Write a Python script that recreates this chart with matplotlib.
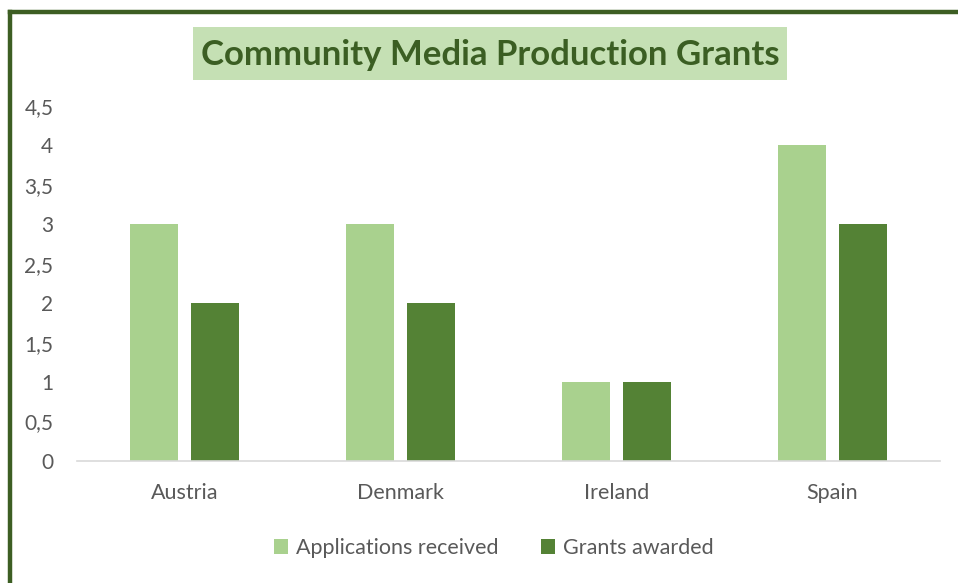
import matplotlib
matplotlib.use("Agg")
import matplotlib.pyplot as plt
import numpy as np
from matplotlib.lines import Line2D
from matplotlib.patches import Patch, Rectangle

categories = ["Austria", "Denmark", "Ireland", "Spain"]
applications = [3, 3, 1, 4]
grants = [2, 2, 1, 3]
series_names = ["Applications received", "Grants awarded"]
yticks = [0, 0.5, 1, 1.5, 2, 2.5, 3, 3.5, 4, 4.5]
ytick_labels = ["0", "0,5", "1", "1,5", "2", "2,5", "3", "3,5", "4", "4,5"]

plt.rcParams['font.family'] = ['Lato', 'DejaVu Sans']

LIGHT = "#A9D18E"
DARK = "#548235"
TXT = "#595959"
BORDER = "#3D5E23"

W, H = 958, 583
fig = plt.figure(figsize=(W/100, H/100), dpi=100)
ax = fig.add_axes([77/W, 1-461/H, (940-77)/W, (461-106)/H])

x = np.arange(len(categories))
w = 0.2225
off = 0.1414
ax.bar(x - off, applications, width=w, color=LIGHT, label=series_names[0])
ax.bar(x + off, grants, width=w, color=DARK, label=series_names[1])

ax.set_xlim(-0.5, len(categories) - 0.5)
ax.set_ylim(0, 4.5)
ax.set_yticks(yticks)
ax.set_yticklabels(ytick_labels)
ax.set_xticks(x)
ax.set_xticklabels(categories)
for s in ["top", "right", "left"]:
    ax.spines[s].set_visible(False)
ax.spines["bottom"].set_color("#D9D9D9")
ax.spines["bottom"].set_linewidth(1.2)
ax.tick_params(axis="both", length=0, colors=TXT, labelsize=15.5)
ax.tick_params(axis="y", pad=17, labelsize=15)
ax.tick_params(axis="x", pad=16)

# title box and text
fig.add_artist(Rectangle((193/W, 1-80/H), (787-193)/W, (80-27)/H, transform=fig.transFigure,
                         facecolor="#C5E0B4", edgecolor="none", zorder=1))
fig.text(490/W, 1-55/H, "Community Media Production Grants", ha="center", va="center",
         fontsize=25, fontweight="bold", color="#3B5E23", zorder=2)

handles = [Patch(facecolor=LIGHT), Patch(facecolor=DARK)]
leg = fig.legend(handles, series_names, loc="center", bbox_to_anchor=(494/W, 1-548/H),
                 ncol=2, frameon=False, fontsize=15.5, handlelength=0.65, handleheight=0.65,
                 handletextpad=0.35, columnspacing=2.0)
for t in leg.get_texts():
    t.set_color(TXT)

# partial frame border (top and left)
fig.add_artist(Line2D([10/W, 1.0], [1-11.5/H, 1-11.5/H], color=BORDER, lw=3.2,
                      transform=fig.transFigure, solid_capstyle="projecting"))
fig.add_artist(Line2D([10/W, 10/W], [0, 1-11.5/H], color=BORDER, lw=3.2,
                      transform=fig.transFigure, solid_capstyle="projecting"))

fig.savefig("out.png", dpi=100, facecolor="white")
